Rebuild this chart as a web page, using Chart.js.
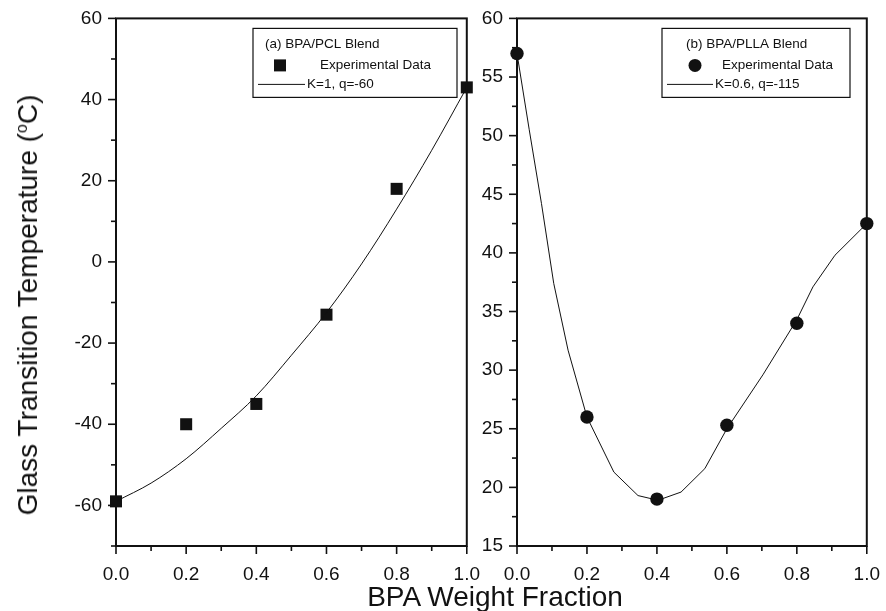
<!DOCTYPE html>
<html>
<head>
<meta charset="utf-8">
<script src="https://cdn.jsdelivr.net/npm/chart.js@4.4.0/dist/chart.umd.min.js"></script>
<style>
  body { margin: 0; background: #fff; overflow: hidden; }
  #wrap { position: relative; width: 886px; height: 611px; overflow: hidden; font-family: "Liberation Sans", Arial, sans-serif; color: #111; }
  canvas { position: absolute; top: -7px; }
  #c1 { left: 0; }
  #c2 { left: 466px; }
  .xtitle { position: absolute; left: 495px; top: 597px; transform: translate(-50%, -50%); font-size: 28px; white-space: nowrap; }
  .ytitle { position: absolute; left: 28px; top: 305px; transform: translate(-50%, -50%) rotate(-90deg); font-size: 28px; white-space: nowrap; line-height: 30px; }
  .ytitle sup { font-size: 16px; line-height: 0; }
</style>
</head>
<body>
<div id="wrap">
  <canvas id="c1" width="497" height="618"></canvas>
  <canvas id="c2" width="431" height="618"></canvas>
  <div class="ytitle">Glass Transition Temperature (<sup>o</sup>C)</div>
  <div class="xtitle">BPA Weight Fraction</div>
</div>
<script>
// measured points
var bpaFrac = [0, 0.2, 0.4, 0.6, 0.8, 1.0];
var pclTg = [-59, -40, -35, -13, 18, 43];
var pllaTg = [57, 26, 19, 25.3, 34, 42.5];

// fitted curves
var pclFitX = [0, 0.1, 0.2, 0.3, 0.4, 0.5, 0.6, 0.7, 0.8, 0.9, 1.0];
var pclFitY = [-59, -54.5, -48.5, -41, -33, -23, -12.5, -0.5, 13, 27.5, 43];
var pllaFitX = [0, 0.035, 0.07, 0.105, 0.146, 0.2, 0.277, 0.346, 0.403, 0.469, 0.537, 0.6, 0.703, 0.8, 0.846, 0.909, 1.0];
var pllaFitY = [57, 50.5, 44.2, 37.4, 31.7, 26.0, 21.3, 19.3, 18.9, 19.6, 21.6, 25.0, 29.6, 34.3, 37.1, 39.8, 42.5];

// axis ticks
var xMajor = [0, 0.2, 0.4, 0.6, 0.8, 1.0];
var xMinor = [0.1, 0.3, 0.5, 0.7, 0.9];
var pclMajor = [-60, -40, -20, 0, 20, 40, 60];
var pclMinor = [-70, -50, -30, -10, 10, 30, 50];
var pllaMajor = [15, 20, 25, 30, 35, 40, 45, 50, 55, 60];
var pllaMinor = [17.5, 22.5, 27.5, 32.5, 37.5, 42.5, 47.5, 52.5, 57.5];

var INK = '#111';
var FONT = '"Liberation Sans", Arial, sans-serif';

function pts(xs, ys) {
  return xs.map(function (x, i) { return { x: x, y: ys[i] }; });
}

// box round the plot, tick marks, and the boxed legend
var framePlugin = {
  id: 'frame',
  afterDraw: function (chart, args, o) {
    var ctx = chart.ctx, a = chart.chartArea;
    var sx = chart.scales.x, sy = chart.scales.y;
    ctx.save();
    ctx.strokeStyle = INK;
    ctx.lineWidth = 1.6;
    function seg(x1, y1, x2, y2) { ctx.beginPath(); ctx.moveTo(x1, y1); ctx.lineTo(x2, y2); ctx.stroke(); }
    xMajor.forEach(function (v) { var p = sx.getPixelForValue(v); seg(p, a.bottom, p, a.bottom + 8); });
    xMinor.forEach(function (v) { var p = sx.getPixelForValue(v); seg(p, a.bottom, p, a.bottom + 5); });
    o.yMajor.forEach(function (v) { var p = sy.getPixelForValue(v); seg(a.left, p, a.left - 8, p); });
    o.yMinor.forEach(function (v) { var p = sy.getPixelForValue(v); seg(a.left, p, a.left - 5, p); });
    ctx.lineWidth = 2;
    ctx.strokeRect(a.left, a.top, a.right - a.left, a.bottom - a.top);

    // legend
    var L = o.legend;
    var bx = a.left + L.dx, by = a.top + L.dy;
    ctx.fillStyle = '#fff';
    ctx.fillRect(bx, by, L.w, L.h);
    ctx.lineWidth = 1.2;
    ctx.strokeRect(bx, by, L.w, L.h);
    ctx.fillStyle = INK;
    ctx.font = '13.5px ' + FONT;
    ctx.textBaseline = 'middle';
    ctx.textAlign = 'left';
    ctx.fillText(L.title, bx + L.titleX, by + 16);
    if (L.marker === 'rect') {
      ctx.fillRect(bx + L.markX - 6, by + 37 - 6, 12, 12);
    } else {
      ctx.beginPath(); ctx.arc(bx + L.markX, by + 37, 6.5, 0, Math.PI * 2); ctx.fill();
    }
    ctx.fillText('Experimental Data', bx + L.textX, by + 37);
    ctx.lineWidth = 1;
    seg(bx + L.lineX0, by + 56, bx + L.lineX1, by + 56);
    ctx.fillText(L.fitLabel, bx + L.lineX1 + 2, by + 56);
    ctx.restore();
  }
};

function makePanel(id, cfg) {
  return new Chart(document.getElementById(id), {
    type: 'scatter',
    data: {
      datasets: [{
        data: pts(cfg.fitX, cfg.fitY),
        showLine: true,
        borderColor: INK,
        borderWidth: 1,
        pointRadius: 0,
        tension: cfg.tension,
        cubicInterpolationMode: cfg.tension ? 'monotone' : 'default'
      }, {
        data: pts(bpaFrac, cfg.expY),
        pointStyle: cfg.marker,
        pointRadius: cfg.radius,
        backgroundColor: INK,
        borderColor: INK,
        borderWidth: 0,
        clip: false
      }]
    },
    options: {
      responsive: false,
      animation: false,
      layout: { padding: { top: 20, right: cfg.padRight, left: 0, bottom: 0 } },
      plugins: {
        legend: { display: false },
        tooltip: { enabled: false },
        frame: { yMajor: cfg.yMajor, yMinor: cfg.yMinor, legend: cfg.legend }
      },
      scales: {
        x: {
          type: 'linear', min: 0, max: 1,
          grid: { display: false, drawTicks: false },
          border: { display: false },
          afterFit: function (s) { s.height = 65; },
          afterBuildTicks: function (s) { s.ticks = xMajor.map(function (v) { return { value: v }; }); },
          ticks: {
            padding: 17, color: INK, font: { size: 19, family: FONT },
            callback: function (v) { return Number(v).toFixed(1); }
          }
        },
        y: {
          type: 'linear', min: cfg.yMin, max: cfg.yMax,
          grid: { display: false, drawTicks: false },
          border: { display: false },
          afterFit: function (s) { s.width = cfg.yWidth; },
          afterBuildTicks: function (s) { s.ticks = cfg.yMajor.map(function (v) { return { value: v }; }); },
          ticks: { padding: 14, color: INK, font: { size: 19, family: FONT } }
        }
      }
    },
    plugins: [framePlugin]
  });
}

makePanel('c1', {
  fitX: pclFitX, fitY: pclFitY, expY: pclTg, tension: 0.4,
  marker: 'rect', radius: 8.5,
  yMin: -70, yMax: 60, yMajor: pclMajor, yMinor: pclMinor,
  yWidth: 116, padRight: 15,
  legend: { dx: 137, dy: 10, w: 204, h: 69, title: '(a) BPA/PCL Blend', titleX: 12,
            marker: 'rect', markX: 27, textX: 67, lineX0: 5, lineX1: 52, fitLabel: 'K=1, q=-60' }
});

makePanel('c2', {
  fitX: pllaFitX, fitY: pllaFitY, expY: pllaTg, tension: 0,
  marker: 'circle', radius: 6.7,
  yMin: 15, yMax: 60, yMajor: pllaMajor, yMinor: pllaMinor,
  yWidth: 51, padRight: 19,
  legend: { dx: 145, dy: 10, w: 188, h: 69, title: '(b) BPA/PLLA Blend', titleX: 24,
            marker: 'circle', markX: 33, textX: 60, lineX0: 5, lineX1: 51, fitLabel: 'K=0.6, q=-115' }
});
</script>
</body>
</html>
